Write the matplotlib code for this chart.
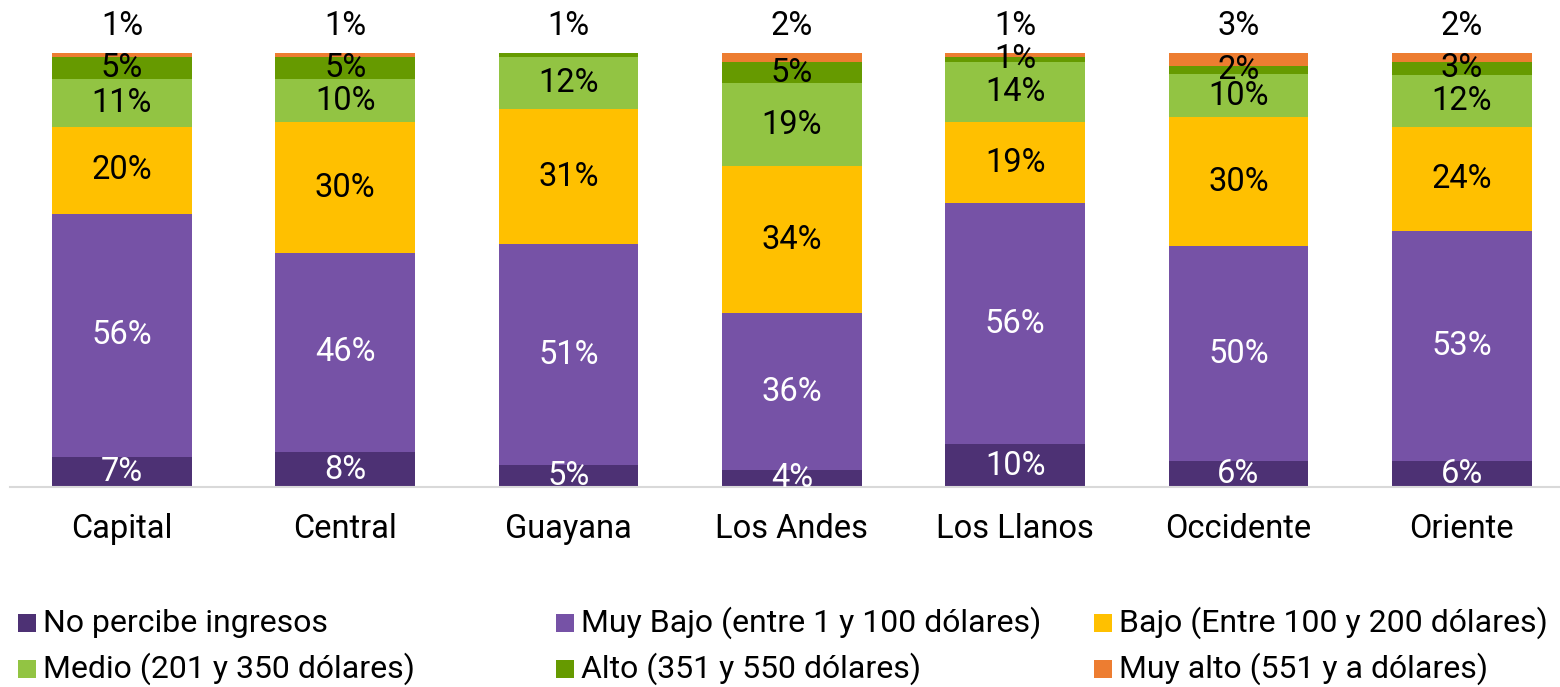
import matplotlib
matplotlib.use("Agg")
import matplotlib.pyplot as plt
from matplotlib.patches import Rectangle

plt.rcParams['font.family'] = ['Roboto', 'DejaVu Sans']

categories = ["Capital", "Central", "Guayana", "Los Andes", "Los Llanos", "Occidente", "Oriente"]
series_names = ["No percibe ingresos", "Muy Bajo (entre 1 y 100 dólares)", "Bajo (Entre 100 y 200 dólares)",
                "Medio (201 y 350 dólares)", "Alto (351 y 550 dólares)", "Muy alto (551 y a dólares)"]
no_percibe = [7, 8, 5, 4, 10, 6, 6]
muy_bajo = [56, 46, 51, 36, 56, 50, 53]
bajo = [20, 30, 31, 34, 19, 30, 24]
medio = [11, 10, 12, 19, 14, 10, 12]
alto = [5, 5, 1, 5, 1, 2, 3]
muy_alto = [1, 1, 0, 2, 1, 3, 2]

series = [no_percibe, muy_bajo, bajo, medio, alto, muy_alto]
colors = ["#4D3174", "#7652A6", "#FFC000", "#92C443", "#669A00", "#ED7D31"]
text_colors = ["white", "white", "black", "black", "black", "black"]

W, H = 1560, 687
fig = plt.figure(figsize=(W / 100, H / 100), dpi=100)
ax = fig.add_axes([10.3 / W, (H - 487) / H, (W - 10.3) / W, 487 / H])

n = len(categories)
x = list(range(n))
totals = [sum(s[i] for s in series) for i in range(n)]
# stacked to 100% (values are rounded shares)
shares = [[s[i] * 100.0 / totals[i] for i in range(n)] for s in series]

bottoms = [0.0] * n
fs = 23.5
for si, vals in enumerate(shares):
    ax.bar(x, vals, bottom=bottoms, width=0.625, color=colors[si], edgecolor='none', zorder=2)
    bottoms = [b + v for b, v in zip(bottoms, vals)]

# labels
for ci in range(n):
    vals = [s[ci] for s in series]
    hs = [s[ci] for s in shares]
    last = max(i for i, v in enumerate(vals) if v > 0)
    b = 0
    for si, v in enumerate(vals):
        h = hs[si]
        if v <= 0:
            continue
        if si == last:
            ax.text(ci, b + h + 6.3, f"{v}%", ha='center', va='center', fontsize=fs, color='black')
        else:
            ax.text(ci, b + h / 2, f"{v}%", ha='center', va='center', fontsize=fs,
                    color=text_colors[si], zorder=3)
        b += h

ax.set_xlim(-0.5, (W - 10.3) / 223.3 - 0.5)
ax.set_ylim(0, 487 / 4.34)
for s in ["top", "right", "left"]:
    ax.spines[s].set_visible(False)
ax.spines["bottom"].set_color("#D9D9D9")
ax.spines["bottom"].set_linewidth(1.5)
ax.set_yticks([])
ax.set_xticks(x)
ax.set_xticklabels(categories, fontsize=fs)
ax.tick_params(axis='x', length=0, pad=19)

# legend
leg_pos = [(18, 623), (556, 623), (1094, 623), (18, 669), (556, 669), (1094, 669)]
for si, (lx, ly) in enumerate(leg_pos):
    fig.patches.append(Rectangle((lx / W, (H - ly - 9) / H), 18 / W, 18 / H,
                                 transform=fig.transFigure, facecolor=colors[si], edgecolor='none'))
    fig.text((lx + 25) / W, (H - ly) / H, series_names[si], fontsize=23, ha='left', va='center')

fig.savefig("out.png", dpi=100)
